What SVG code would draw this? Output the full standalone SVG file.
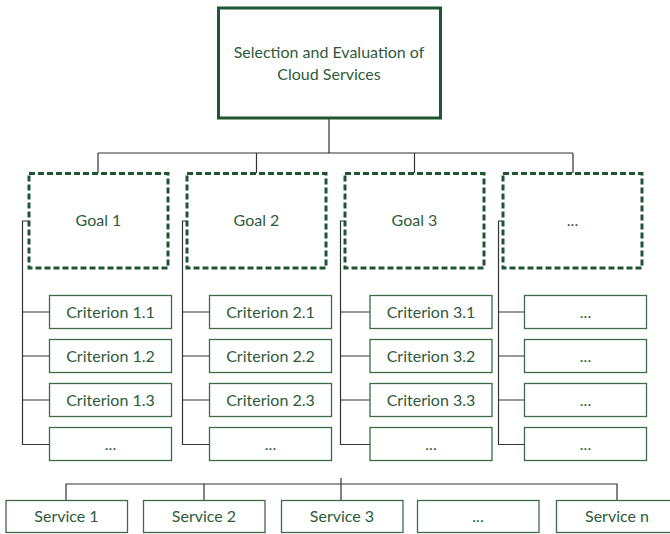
<svg xmlns="http://www.w3.org/2000/svg" width="670" height="534" viewBox="0 0 670 534">
  <style>
    .root { fill: #ffffff; stroke: #1f5530; stroke-width: 3; }
    .goal { fill: #ffffff; stroke: #1f5530; stroke-width: 3; stroke-dasharray: 6 3; }
    .box { fill: #ffffff; stroke: #3d6b47; stroke-width: 1.3; }
    .link { fill: none; stroke: #333333; stroke-width: 1.2; }
    text { font-family: Lato, "Open Sans", sans-serif; font-size: 16px; fill: #2e5b3a; text-anchor: middle; }
  </style>
  <rect width="670" height="534" fill="#ffffff"/>

  <!-- connectors -->
  <g id="connectors">
    <path class="link" d="M329 118V153M98 153H573M98 153V173M256.5 153V173M414.5 153V173M573 153V173"/>
    <path class="link" d="M29 221H22.5V444.5H49.5M22.5 312H49.5M22.5 356H49.5M22.5 400H49.5"/>
    <path class="link" d="M187 221H182.5V444.5H209.5M182.5 312H209.5M182.5 356H209.5M182.5 400H209.5"/>
    <path class="link" d="M345 221H340.5V444.5H370M340.5 312H370M340.5 356H370M340.5 400H370"/>
    <path class="link" d="M503 221H498.5V444.5H524.5M498.5 312H524.5M498.5 356H524.5M498.5 400H524.5"/>
    <path class="link" d="M66 500V484H617V500M204 484V500M341 478V500"/>
  </g>

  <g id="root">
    <rect class="root" x="218.5" y="8" width="222" height="110"/>
    <text x="329" y="58">Selection and Evaluation of</text>
    <text x="329" y="80">Cloud Services</text>
  </g>

  <g id="goal-1"><rect class="goal" x="29" y="173.5" width="139" height="94.5"/><text x="98.5" y="226">Goal 1</text></g>
  <g id="goal-2"><rect class="goal" x="187" y="173.5" width="139" height="94.5"/><text x="256.5" y="226">Goal 2</text></g>
  <g id="goal-3"><rect class="goal" x="345" y="173.5" width="139" height="94.5"/><text x="414.5" y="226">Goal 3</text></g>
  <g id="goal-4"><rect class="goal" x="503" y="173.5" width="139" height="94.5"/><text x="572.5" y="226">...</text></g>

  <g id="criterion-1-1"><rect class="box" x="49.5" y="295.5" width="122" height="33"/><text x="110.5" y="317.5">Criterion 1.1</text></g>
  <g id="criterion-1-2"><rect class="box" x="49.5" y="339.5" width="122" height="33"/><text x="110.5" y="361.5">Criterion 1.2</text></g>
  <g id="criterion-1-3"><rect class="box" x="49.5" y="383.5" width="122" height="33"/><text x="110.5" y="405.5">Criterion 1.3</text></g>
  <g id="criterion-1-n"><rect class="box" x="49.5" y="427.5" width="122" height="33"/><text x="110.5" y="449.5">...</text></g>

  <g id="criterion-2-1"><rect class="box" x="209.5" y="295.5" width="122" height="33"/><text x="270.5" y="317.5">Criterion 2.1</text></g>
  <g id="criterion-2-2"><rect class="box" x="209.5" y="339.5" width="122" height="33"/><text x="270.5" y="361.5">Criterion 2.2</text></g>
  <g id="criterion-2-3"><rect class="box" x="209.5" y="383.5" width="122" height="33"/><text x="270.5" y="405.5">Criterion 2.3</text></g>
  <g id="criterion-2-n"><rect class="box" x="209.5" y="427.5" width="122" height="33"/><text x="270.5" y="449.5">...</text></g>

  <g id="criterion-3-1"><rect class="box" x="370" y="295.5" width="122" height="33"/><text x="431" y="317.5">Criterion 3.1</text></g>
  <g id="criterion-3-2"><rect class="box" x="370" y="339.5" width="122" height="33"/><text x="431" y="361.5">Criterion 3.2</text></g>
  <g id="criterion-3-3"><rect class="box" x="370" y="383.5" width="122" height="33"/><text x="431" y="405.5">Criterion 3.3</text></g>
  <g id="criterion-3-n"><rect class="box" x="370" y="427.5" width="122" height="33"/><text x="431" y="449.5">...</text></g>

  <g id="criterion-n-1"><rect class="box" x="524.5" y="295.5" width="122" height="33"/><text x="585.5" y="317.5">...</text></g>
  <g id="criterion-n-2"><rect class="box" x="524.5" y="339.5" width="122" height="33"/><text x="585.5" y="361.5">...</text></g>
  <g id="criterion-n-3"><rect class="box" x="524.5" y="383.5" width="122" height="33"/><text x="585.5" y="405.5">...</text></g>
  <g id="criterion-n-n"><rect class="box" x="524.5" y="427.5" width="122" height="33"/><text x="585.5" y="449.5">...</text></g>

  <g id="service-1"><rect class="box" x="6" y="500.5" width="121.5" height="32"/><text x="66.5" y="522">Service 1</text></g>
  <g id="service-2"><rect class="box" x="143.5" y="500.5" width="121.5" height="32"/><text x="204" y="522">Service 2</text></g>
  <g id="service-3"><rect class="box" x="281.5" y="500.5" width="121.5" height="32"/><text x="342" y="522">Service 3</text></g>
  <g id="service-etc"><rect class="box" x="417.5" y="500.5" width="121.5" height="32"/><text x="478" y="522">...</text></g>
  <g id="service-n"><rect class="box" x="556.5" y="500.5" width="121.5" height="32"/><text x="617" y="522">Service n</text></g>
</svg>
